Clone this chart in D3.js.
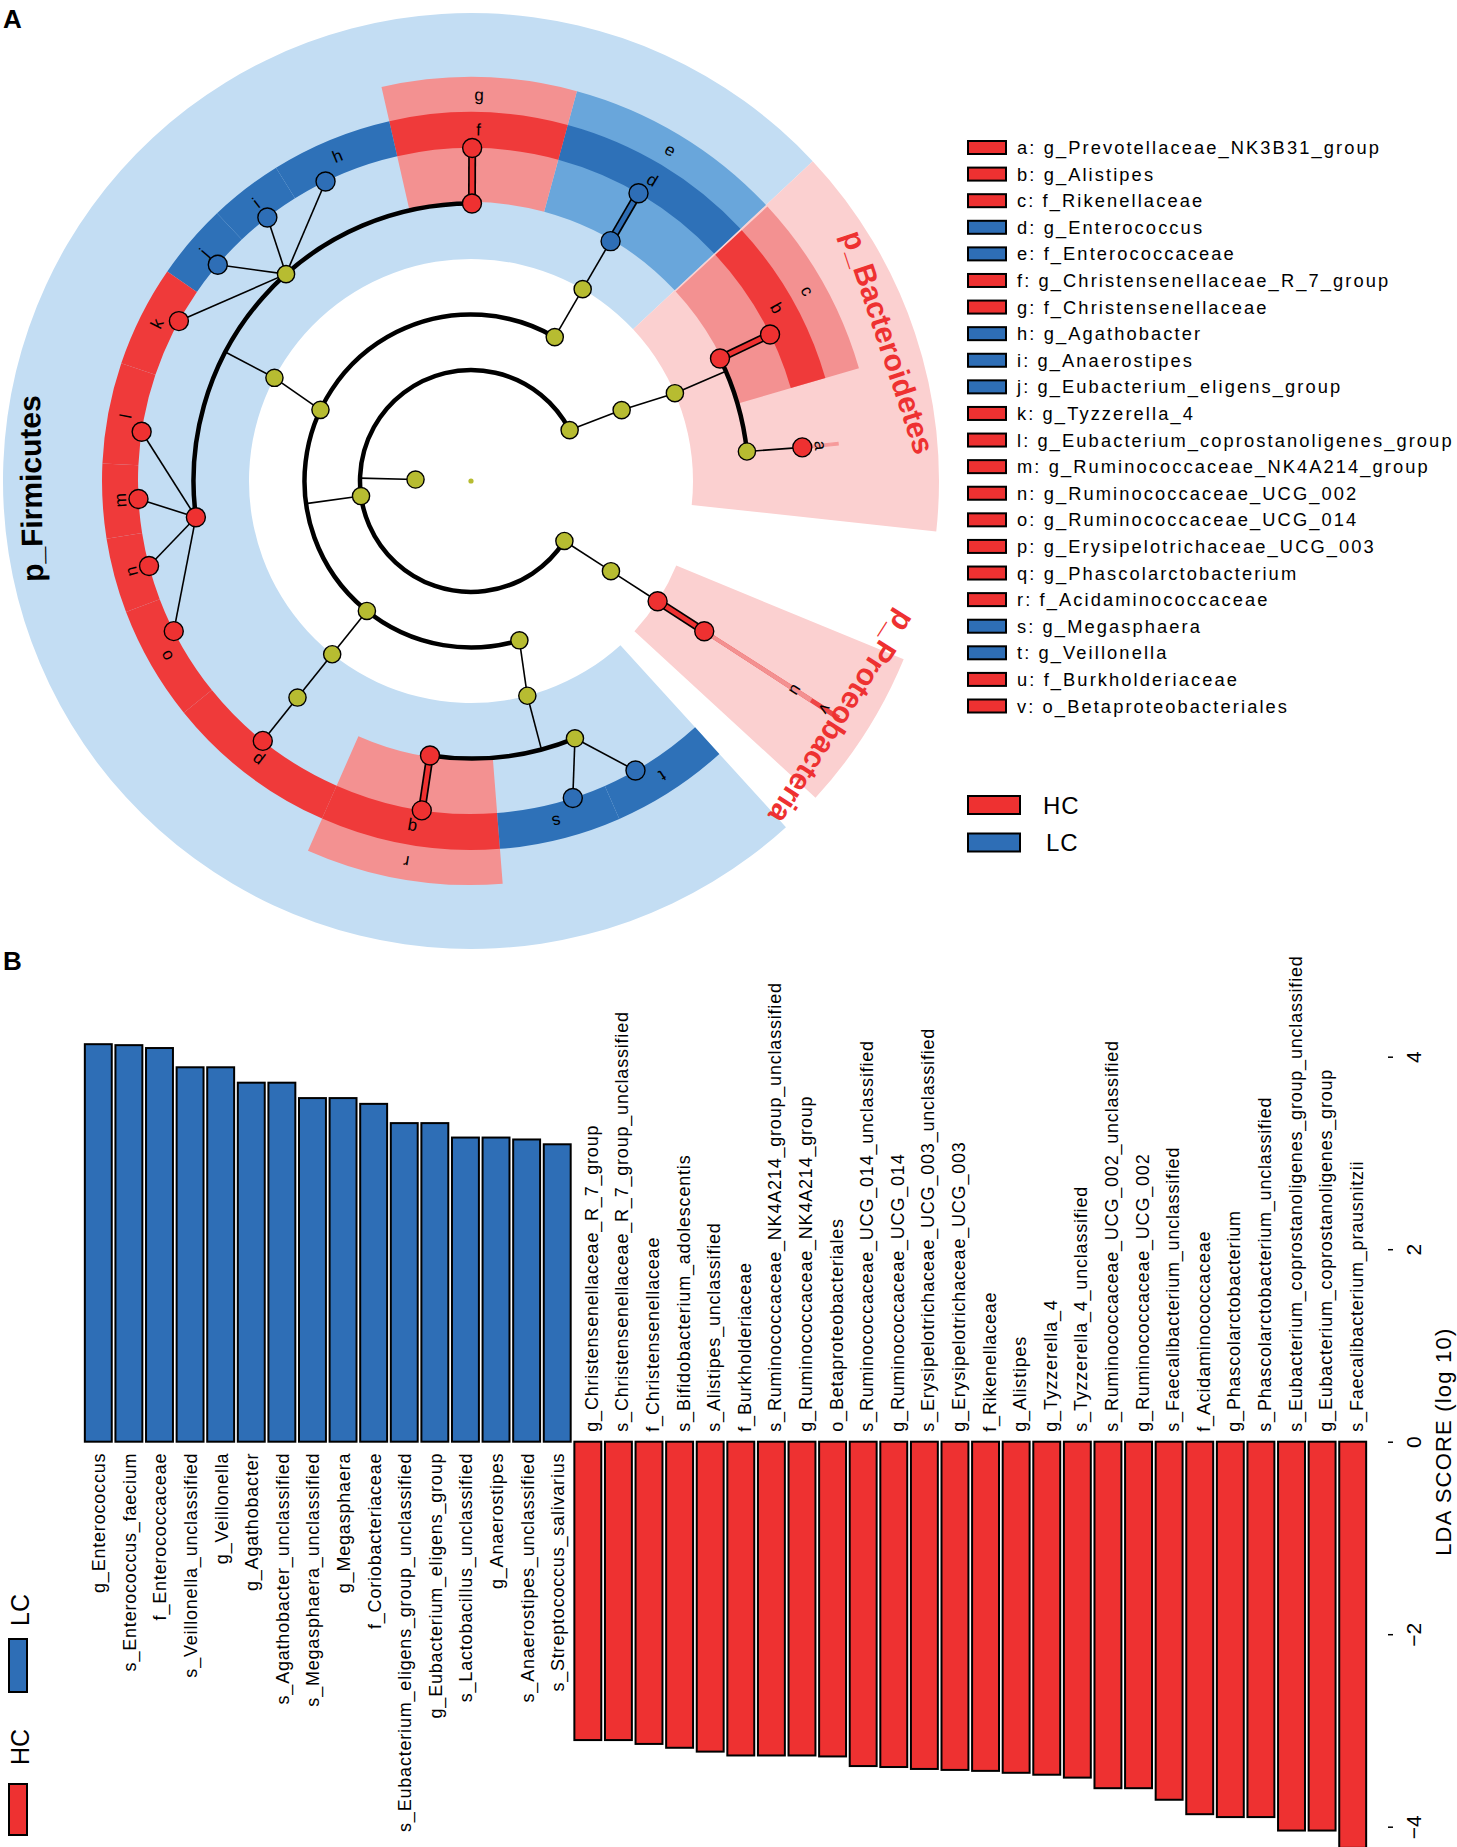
<!DOCTYPE html>
<html lang="en">
<head>
<meta charset="UTF-8">
<title>LEfSe cladogram and LDA scores</title>
<script src="https://cdn.jsdelivr.net/npm/d3@7"></script>
<style>
  body { margin: 0; background: #fff; }
  svg { display: block; }
  text { font-family: "Liberation Sans", Arial, sans-serif; fill: #000; }
</style>
</head>
<body>
<svg id="fig" width="1457" height="1847"></svg>
<script>
"use strict";

// ---------- panel A data : cladogram ----------
// angles in degrees, 0 = 3 o'clock, clockwise (unwrapped to -360..0)
// [id, parent, level, angle, class]
var treeNodes = [
  ["root", null, 0, 0, ""],
  ["k_Bacteria", "root", 1, -178.5, ""],
  ["p_Bacteroidetes", "k_Bacteria", 2, -27.3, ""],
  ["c_Bacteroidia", "p_Bacteroidetes", 3, -25.2, ""],
  ["o_Bacteroidales", "c_Bacteroidia", 4, -23.3, ""],
  ["f_Rikenellaceae", "o_Bacteroidales", 5, -26.2, "HC"],
  ["g_Alistipes", "f_Rikenellaceae", 6, -26.1, "HC"],
  ["f_Prevotellaceae", "o_Bacteroidales", 5, -6.1, ""],
  ["g_Prevotellaceae_NK3B31_group", "f_Prevotellaceae", 6, -5.8, "HC"],
  ["p_Firmicutes", "k_Bacteria", 2, -187.8, ""],
  ["c_Bacilli", "p_Firmicutes", 3, -59.8, ""],
  ["o_Lactobacillales", "c_Bacilli", 4, -59.8, ""],
  ["f_Enterococcaceae", "o_Lactobacillales", 5, -59.8, "LC"],
  ["g_Enterococcus", "f_Enterococcaceae", 6, -59.8, "LC"],
  ["c_Clostridia", "p_Firmicutes", 3, -154.7, ""],
  ["o_Clostridiales", "c_Clostridia", 4, -152.3, ""],
  ["f_Christensenellaceae", "o_Clostridiales", 5, -89.8, "HC"],
  ["g_Christensenellaceae_R_7_group", "f_Christensenellaceae", 6, -89.8, "HC"],
  ["f_Lachnospiraceae", "o_Clostridiales", 5, -131.8, ""],
  ["g_Agathobacter", "f_Lachnospiraceae", 6, -115.9, "LC"],
  ["g_Anaerostipes", "f_Lachnospiraceae", 6, -127.7, "LC"],
  ["g_Eubacterium_eligens_group", "f_Lachnospiraceae", 6, -139.5, "LC"],
  ["g_Tyzzerella_4", "f_Lachnospiraceae", 6, -151.3, "HC"],
  ["f_Ruminococcaceae", "o_Clostridiales", 5, -187.5, "HC"],
  ["g_Eubacterium_coprostanoligenes_group", "f_Ruminococcaceae", 6, -171.5, "HC"],
  ["g_Ruminococcaceae_NK4A214_group", "f_Ruminococcaceae", 6, -183.1, "HC"],
  ["g_Ruminococcaceae_UCG_002", "f_Ruminococcaceae", 6, -194.8, "HC"],
  ["g_Ruminococcaceae_UCG_014", "f_Ruminococcaceae", 6, -206.8, "HC"],
  ["c_Erysipelotrichia", "p_Firmicutes", 3, -231.3, ""],
  ["o_Erysipelotrichales", "c_Erysipelotrichia", 4, -231.3, ""],
  ["f_Erysipelotrichaceae", "o_Erysipelotrichales", 5, -231.3, ""],
  ["g_Erysipelotrichaceae_UCG_003", "f_Erysipelotrichaceae", 6, -231.3, "HC"],
  ["c_Negativicutes", "p_Firmicutes", 3, -286.9, ""],
  ["o_Selenomonadales", "c_Negativicutes", 4, -284.7, ""],
  ["f_Acidaminococcaceae", "o_Selenomonadales", 5, -261.5, "HC"],
  ["g_Phascolarctobacterium", "f_Acidaminococcaceae", 6, -261.5, "HC"],
  ["f_Veillonellaceae", "o_Selenomonadales", 5, -292.0, ""],
  ["g_Megasphaera", "f_Veillonellaceae", 6, -287.8, "LC"],
  ["g_Veillonella", "f_Veillonellaceae", 6, -299.6, "LC"],
  ["p_Proteobacteria", "k_Bacteria", 2, -327.3, ""],
  ["c_Gammaproteobacteria", "p_Proteobacteria", 3, -327.2, ""],
  ["o_Betaproteobacteriales", "c_Gammaproteobacteria", 4, -327.2, "HC"],
  ["f_Burkholderiaceae", "o_Betaproteobacteriales", 5, -327.2, "HC"]
];

// phylum shading: [name, class, start angle, end angle, label angle]
var phylumShades = [
  ["p_Firmicutes", "LC", -312.3, -43.1, -181.0],
  ["p_Bacteroidetes", "HC", -43.1, 6.2, -18.4],
  ["p_Proteobacteria", "HC", -337.6, -317.4, -327.5]
];

// biomarker clades (legend a..v)
var cladeLetters = ["a","b","c","d","e","f","g","h","i","j","k","l","m","n","o","p","q","r","s","t","u","v"];
var cladeNames = ["g_Prevotellaceae_NK3B31_group","g_Alistipes","f_Rikenellaceae","g_Enterococcus",
  "f_Enterococcaceae","g_Christensenellaceae_R_7_group","f_Christensenellaceae","g_Agathobacter",
  "g_Anaerostipes","g_Eubacterium_eligens_group","g_Tyzzerella_4","g_Eubacterium_coprostanoligenes_group",
  "g_Ruminococcaceae_NK4A214_group","g_Ruminococcaceae_UCG_002","g_Ruminococcaceae_UCG_014",
  "g_Erysipelotrichaceae_UCG_003","g_Phascolarctobacterium","f_Acidaminococcaceae","g_Megasphaera",
  "g_Veillonella","f_Burkholderiaceae","o_Betaproteobacteriales"];
var cladeSpans = [[-6.0,-5.6],[-42.8,-16.2],[-42.8,-16.2],[-74.8,-43.1],[-74.8,-43.1],
  [-102.8,-74.8],[-102.8,-74.8],[-121.9,-102.8],[-133.5,-121.9],[-145.4,-133.5],[-161.4,-145.4],
  [-177.3,-161.4],[-189.0,-177.3],[-200.8,-189.0],[-218.9,-200.8],[-246.2,-218.9],[-274.5,-246.2],
  [-274.5,-246.2],[-293.7,-274.5],[-312.3,-293.7],[-327.45,-326.95],[-327.45,-326.95]];

var groups = ["HC", "LC"];

// ---------- panel B data : LDA scores ----------
var barNames = ["g_Enterococcus","s_Enterococcus_faecium","f_Enterococcaceae","s_Veillonella_unclassified",
  "g_Veillonella","g_Agathobacter","s_Agathobacter_unclassified","s_Megasphaera_unclassified",
  "g_Megasphaera","f_Coriobacteriaceae","s_Eubacterium_eligens_group_unclassified",
  "g_Eubacterium_eligens_group","s_Lactobacillus_unclassified","g_Anaerostipes",
  "s_Anaerostipes_unclassified","s_Streptococcus_salivarius",
  "g_Christensenellaceae_R_7_group","s_Christensenellaceae_R_7_group_unclassified",
  "f_Christensenellaceae","s_Bifidobacterium_adolescentis","s_Alistipes_unclassified",
  "f_Burkholderiaceae","s_Ruminococcaceae_NK4A214_group_unclassified","g_Ruminococcaceae_NK4A214_group",
  "o_Betaproteobacteriales","s_Ruminococcaceae_UCG_014_unclassified","g_Ruminococcaceae_UCG_014",
  "s_Erysipelotrichaceae_UCG_003_unclassified","g_Erysipelotrichaceae_UCG_003","f_Rikenellaceae",
  "g_Alistipes","g_Tyzzerella_4","s_Tyzzerella_4_unclassified","s_Ruminococcaceae_UCG_002_unclassified",
  "g_Ruminococcaceae_UCG_002","s_Faecalibacterium_unclassified","f_Acidaminococcaceae",
  "g_Phascolarctobacterium","s_Phascolarctobacterium_unclassified",
  "s_Eubacterium_coprostanoligenes_group_unclassified","g_Eubacterium_coprostanoligenes_group",
  "s_Faecalibacterium_prausnitzii"];
var barScores = [4.13, 4.12, 4.09, 3.89, 3.89, 3.73, 3.73, 3.57, 3.57, 3.51, 3.31, 3.31, 3.16, 3.16, 3.14, 3.09,
  -3.10, -3.10, -3.14, -3.18, -3.22, -3.26, -3.26, -3.26, -3.27, -3.37, -3.38, -3.40, -3.41, -3.42,
  -3.44, -3.46, -3.49, -3.60, -3.60, -3.72, -3.87, -3.90, -3.90, -4.04, -4.04, -4.22];
var ldaTicks = [4, 2, 0, -2, -4];

// ---------- styles ----------
var RED = "#EE3131", BLUE = "#2E6EB6";
var shadeFill = {
  phylum: { HC: "#FBD0D0", LC: "#C3DDF3" },
  order:  { HC: "#EE4545", LC: "#2E6EB6" },
  family: { HC: "#F39191", LC: "#69A6DB" },
  genus:  { HC: "#EF3A3A", LC: "#2E71B8" }
};
var levelName = ["root", "kingdom", "phylum", "class", "order", "family", "genus"];
var shadeRad = { phylum: [222, 468], order: [222, 437], family: [279, 404], genus: [333, 369] };
var labelRad = { order: 421, family: 386, genus: 351 };
var NODE_Y = "#B7BC31";

var svg = d3.select("#fig");

// ================= panel A =================
var cx = 471, cy = 481;
var rLevel = d3.scaleLinear().domain([0, 6]).range([0, 333]);
var rad = d3.scaleLinear().domain([0, 360]).range([0, 2 * Math.PI]);
var color = d3.scaleOrdinal().domain(groups).range([RED, BLUE]);

function pt(r, deg) {
  return [cx + r * Math.cos(rad(deg)), cy + r * Math.sin(rad(deg))];
}
function wedge(r0, r1, a0, a1) {
  return d3.arc().innerRadius(r0).outerRadius(r1)
    .startAngle(rad(a0 + 90)).endAngle(rad(a1 + 90))();
}

var nodes = treeNodes.map(function (d) {
  return { id: d[0], parent: d[1], level: d[2], angle: d[3], cls: d[4] };
});
var byId = {};
nodes.forEach(function (n) { byId[n.id] = n; n.children = []; });
nodes.forEach(function (n) { if (n.parent) byId[n.parent].children.push(n); });

var gA = svg.append("g").attr("class", "cladogram");
var gC = gA.append("g").attr("transform", "translate(" + cx + "," + cy + ")");

// phylum shading
gC.selectAll("path.phylum").data(phylumShades).enter().append("path")
  .attr("class", "phylum")
  .attr("d", function (d) { return wedge(shadeRad.phylum[0], shadeRad.phylum[1], d[2], d[3]); })
  .attr("fill", function (d) { return shadeFill.phylum[d[1]]; });

// clade shading, outer levels first
var clades = cladeLetters.map(function (l, i) {
  var n = byId[cladeNames[i]];
  return { letter: l, name: cladeNames[i], node: n, lev: levelName[n.level], cls: n.cls,
           a0: cladeSpans[i][0], a1: cladeSpans[i][1] };
});
var levOrder = { order: 0, family: 1, genus: 2 };
var cladesSorted = clades.slice().sort(function (a, b) { return levOrder[a.lev] - levOrder[b.lev]; });

gC.selectAll("path.clade").data(cladesSorted).enter().append("path")
  .attr("class", "clade")
  .attr("d", function (d) { return wedge(shadeRad[d.lev][0], shadeRad[d.lev][1], d.a0, d.a1); })
  .attr("fill", function (d) { return shadeFill[d.lev][d.cls]; })
  .attr("stroke", function (d) { return (d.a1 - d.a0) < 1 ? shadeFill[d.lev][d.cls] : "none"; })
  .attr("stroke-width", 1.2)
  .attr("opacity", function (d) { return (d.a1 - d.a0) < 1 && d.lev === "genus" ? 0.35 : 1; });

// clade letters
gA.selectAll("text.letter").data(clades).enter().append("text")
  .attr("class", "letter")
  .attr("transform", function (d) {
    var m = (d.a0 + d.a1) / 2, p = pt(labelRad[d.lev], m);
    return "translate(" + p[0] + "," + p[1] + ") rotate(" + (m + 90) + ")";
  })
  .attr("text-anchor", "middle")
  .attr("dominant-baseline", "central")
  .style("font-size", "17px")
  .text(function (d) { return d.letter; });

// phylum labels
gA.selectAll("text.phylum").data(phylumShades).enter().append("text")
  .attr("class", "phylum")
  .attr("transform", function (d) {
    var m = d[4], p = pt(440, m);
    return "translate(" + p[0] + "," + p[1] + ") rotate(" + (m + 90) + ")";
  })
  .attr("text-anchor", "middle")
  .attr("dominant-baseline", "central")
  .style("font-size", "30px")
  .style("font-weight", "bold")
  .style("fill", function (d) { return d[1] === "HC" ? RED : "#000"; })
  .text(function (d) { return d[0]; });

// branches
var gL = gA.append("g").attr("fill", "none").attr("stroke", "#000");
nodes.forEach(function (n) {
  if (n.level === 0 || n.children.length === 0) return;
  var kids = n.children;
  var p0 = pt(rLevel(n.level), n.angle);
  if (kids.length > 1 && kids[0].level < 6) {
    var rc = rLevel(kids[0].level);
    var p1 = pt(rc, n.angle);
    gL.append("line").attr("x1", p0[0]).attr("y1", p0[1]).attr("x2", p1[0]).attr("y2", p1[1])
      .attr("stroke-width", 1.6);
    var ext = d3.extent(kids, function (k) { return k.angle; });
    var pa = d3.path();
    pa.arc(cx, cy, rc, rad(ext[0]), rad(ext[1]));
    gL.append("path").attr("d", pa.toString()).attr("stroke-width", 4.5);
  } else {
    kids.forEach(function (k) {
      var pk = pt(rLevel(k.level), k.angle);
      var pipe = kids.length === 1 && n.cls && n.cls === k.cls;
      if (pipe) {
        gL.append("line").attr("x1", p0[0]).attr("y1", p0[1]).attr("x2", pk[0]).attr("y2", pk[1])
          .attr("stroke-width", 8);
        gL.append("line").attr("x1", p0[0]).attr("y1", p0[1]).attr("x2", pk[0]).attr("y2", pk[1])
          .attr("stroke", color(k.cls)).attr("stroke-width", 4.6);
      } else {
        gL.append("line").attr("x1", p0[0]).attr("y1", p0[1]).attr("x2", pk[0]).attr("y2", pk[1])
          .attr("stroke-width", 1.6);
      }
    });
  }
});

// nodes
gA.selectAll("circle.node").data(nodes).enter().append("circle")
  .attr("class", "node")
  .attr("cx", function (d) { return pt(rLevel(d.level), d.angle)[0]; })
  .attr("cy", function (d) { return pt(rLevel(d.level), d.angle)[1]; })
  .attr("r", function (d) { return d.level === 0 ? 2.6 : (d.cls ? 9.5 : 8.6); })
  .attr("fill", function (d) { return d.cls ? color(d.cls) : NODE_Y; })
  .attr("stroke", function (d) { return d.level === 0 ? "none" : "#000"; })
  .attr("stroke-width", 1.4);

// legend (a..v)
var leg = svg.append("g").attr("class", "legendA");
var legY = d3.scaleLinear().domain([0, cladeLetters.length - 1]).range([147.5, 706]);
var rows = leg.selectAll("g.row").data(clades).enter().append("g").attr("class", "row")
  .attr("transform", function (d, i) { return "translate(0," + legY(i) + ")"; });
rows.append("rect").attr("x", 968).attr("y", -6.5).attr("width", 38).attr("height", 13)
  .attr("fill", function (d) { return color(d.cls); })
  .attr("stroke", "#000").attr("stroke-width", 2);
rows.append("text").attr("x", 1017).attr("y", 0)
  .attr("dominant-baseline", "central")
  .style("font-size", "18.3px").style("letter-spacing", "2.1px")
  .text(function (d) { return d.letter + ": " + d.name; });

var leg2 = svg.append("g").selectAll("g").data(groups).enter().append("g")
  .attr("transform", function (d, i) { return "translate(0," + (805 + i * 37.5) + ")"; });
leg2.append("rect").attr("x", 968).attr("y", -9).attr("width", 52).attr("height", 18)
  .attr("fill", function (d) { return color(d); }).attr("stroke", "#000").attr("stroke-width", 2);
leg2.append("text").attr("x", function (d, i) { return 1043 + i * 3; }).attr("y", 0)
  .attr("dominant-baseline", "central")
  .style("font-size", "24px").style("letter-spacing", "1px")
  .text(function (d) { return d; });

// panel tags
svg.append("text").attr("x", 3).attr("y", 28).style("font-size", "26px").style("font-weight", "bold").text("A");
svg.append("text").attr("x", 3).attr("y", 970).style("font-size", "26px").style("font-weight", "bold").text("B");

// ================= panel B (LEfSe bar plot turned a quarter left) =================
var bars = barNames.map(function (n, i) { return { name: n, score: barScores[i] }; });
var x = d3.scaleBand().domain(barNames).range([83, 1368]).paddingInner(0.12).paddingOuter(0.06);
var y = d3.scaleLinear().domain([-4, 4]).range([1826.7, 1056.7]);
var gB = svg.append("g").attr("class", "bars");

gB.selectAll("rect.bar").data(bars).enter().append("rect")
  .attr("class", "bar")
  .attr("x", function (d) { return x(d.name); })
  .attr("width", x.bandwidth())
  .attr("y", function (d) { return y(Math.max(0, d.score)); })
  .attr("height", function (d) { return Math.abs(y(d.score) - y(0)); })
  .attr("fill", function (d) { return d.score > 0 ? BLUE : RED; })
  .attr("stroke", "#000").attr("stroke-width", 2);

gB.selectAll("text.blab").data(bars).enter().append("text")
  .attr("class", "blab")
  .attr("transform", function (d) {
    var ty = d.score > 0 ? y(0) + 11 : y(0) - 10;
    var tx = x(d.name) + x.bandwidth() / 2 + (d.score > 0 ? 1 : 4);
    return "translate(" + tx + "," + ty + ") rotate(-90)";
  })
  .attr("text-anchor", function (d) { return d.score > 0 ? "end" : "start"; })
  .attr("dominant-baseline", "central")
  .style("font-size", "18px").style("letter-spacing", "0.8px")
  .text(function (d) { return d.name; });

var axis = gB.append("g").attr("transform", "translate(1388,0)")
  .call(d3.axisRight(y).tickValues(ldaTicks).tickSize(5).tickFormat(d3.format("d")));
axis.select(".domain").remove();
axis.selectAll(".tick line").attr("stroke", "#000").attr("stroke-width", 1.5);
axis.selectAll(".tick text")
  .attr("x", null).attr("dy", null)
  .attr("transform", "translate(25,0) rotate(-90)")
  .attr("text-anchor", "middle")
  .attr("dominant-baseline", "central")
  .style("font-family", "'Liberation Sans', Arial, sans-serif")
  .style("font-size", "21px").style("fill", "#000");

gB.append("text")
  .attr("transform", "translate(1443," + y(0) + ") rotate(-90)")
  .attr("text-anchor", "middle").attr("dominant-baseline", "central")
  .style("font-size", "22px").style("letter-spacing", "1.2px")
  .text("LDA SCORE (log 10)");

// panel B legend
var legB = svg.append("g").selectAll("g").data(groups).enter().append("g");
legB.append("rect")
  .attr("x", 9).attr("width", 18)
  .attr("y", function (d) { return d === "HC" ? 1784 : 1639; })
  .attr("height", function (d) { return d === "HC" ? 51 : 53; })
  .attr("fill", function (d) { return color(d); }).attr("stroke", "#000").attr("stroke-width", 2);
legB.append("text")
  .attr("transform", function (d) { return "translate(20," + (d === "HC" ? 1747 : 1610) + ") rotate(-90)"; })
  .attr("text-anchor", "middle").attr("dominant-baseline", "central")
  .style("font-size", "25px")
  .text(function (d) { return d; });
</script>
</body>
</html>
